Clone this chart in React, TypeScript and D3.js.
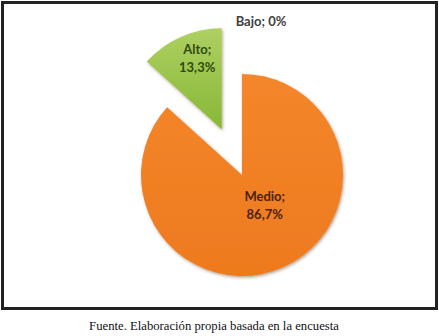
import React from "react";
import * as d3 from "d3";

const categories = ["Bajo", "Medio", "Alto"];
const values = [0, 86.7, 13.3];
const valueLabels = ["0%", "86,7%", "13,3%"];
const caption = "Fuente. Elaboración propia basada en la encuesta";

const W = 439;
const H = 336;

export default function App() {
  const cx = 242;
  const cy = 175;
  const r = 101;
  const explode = 50;

  const pie = d3
    .pie<number>()
    .sort(null)
    .value((d) => d)
    .startAngle(0)
    .endAngle(2 * Math.PI);
  const arcs = pie(values);
  const arc = d3.arc<d3.PieArcDatum<number>>().innerRadius(0).outerRadius(r);
  const labelArc = (f: number) =>
    d3.arc<d3.PieArcDatum<number>>().innerRadius(r * f).outerRadius(r * f);

  const fills: Record<string, string> = {
    Medio: "url(#gOrange)",
    Alto: "url(#gGreen)",
    Bajo: "#4f81bd",
  };
  const textColors: Record<string, string> = {
    Medio: "#4a2207",
    Alto: "#2f4a12",
    Bajo: "#404040",
  };
  // label radius (fraction of r) and nudge per slice
  const labelPlace: Record<string, [number, number, number]> = {
    Medio: [0.36, 8, -4],
    Alto: [0.72, 5, -6],
  };

  const font = "Lato, 'Open Sans', sans-serif";

  return (
    <svg
      width={W}
      height={H}
      viewBox={`0 0 ${W} ${H}`}
      style={{ position: "absolute", left: 0, top: 0, background: "#fff" }}
    >
      <defs>
        <linearGradient id="gOrange" x1="0" y1="0" x2="0" y2="1">
          <stop offset="0" stopColor="#f4862a" />
          <stop offset="1" stopColor="#ee7a1e" />
        </linearGradient>
        <linearGradient id="gGreen" x1="0" y1="0" x2="0" y2="1">
          <stop offset="0" stopColor="#aed062" />
          <stop offset="1" stopColor="#86b836" />
        </linearGradient>
        <filter id="shadow" x="-20%" y="-20%" width="140%" height="140%">
          <feDropShadow dx="1" dy="1.5" stdDeviation="1.5" floodColor="#5a2a00" floodOpacity="0.45" />
        </filter>
      </defs>

      <rect x={2.5} y={2.5} width={434} height={306} fill="#fff" stroke="#222" strokeWidth={3} />

      {arcs.map((a, i) => {
        const name = categories[i];
        const mid = (a.startAngle + a.endAngle) / 2;
        const off = name === "Alto" ? explode : 0;
        const ox = cx + Math.sin(mid) * off;
        const oy = cy - Math.cos(mid) * off;
        if (a.endAngle - a.startAngle <= 0) return null;
        return (
          <g key={name} transform={`translate(${ox},${oy})`}>
            <path d={arc(a) || ""} fill={fills[name]} filter="url(#shadow)" />
          </g>
        );
      })}

      {arcs.map((a, i) => {
        const name = categories[i];
        const mid = (a.startAngle + a.endAngle) / 2;
        const off = name === "Alto" ? explode : 0;
        const ox = cx + Math.sin(mid) * off;
        const oy = cy - Math.cos(mid) * off;
        if (a.endAngle - a.startAngle <= 0) {
          // zero-size slice: label sits just outside the rim
          const tx = cx + Math.sin(mid) * (r + 48) + 19;
          const ty = cy - Math.cos(mid) * (r + 48);
          return (
            <text
              key={name}
              x={tx}
              y={ty}
              textAnchor="middle"
              fontFamily={font}
              fontWeight="bold"
              fontSize={13}
              fill={textColors[name]}
            >
              {`${name}; ${valueLabels[i]}`}
            </text>
          );
        }
        const [f, nx, ny] = labelPlace[name];
        const [lx, ly] = labelArc(f).centroid(a);
        const tx = ox + lx + nx;
        const ty = oy + ly + ny;
        return (
          <text
            key={name}
            x={tx}
            y={ty}
            textAnchor="middle"
            fontFamily={font}
            fontWeight="bold"
            fontSize={13}
            fill={textColors[name]}
          >
            <tspan x={tx} dy={-3}>{`${name};`}</tspan>
            <tspan x={tx} dy={18}>{valueLabels[i]}</tspan>
          </text>
        );
      })}

      <text
        x={214}
        y={330}
        textAnchor="middle"
        fontFamily="'Liberation Serif', 'Times New Roman', serif"
        fontSize={12.7}
        fill="#111"
      >
        {caption}
      </text>
    </svg>
  );
}
